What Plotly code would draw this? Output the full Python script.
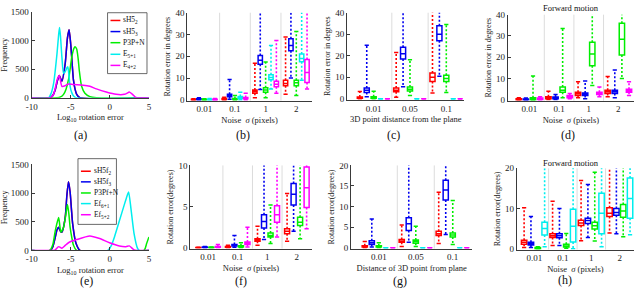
import plotly.graph_objects as go

W, H = 640, 298
FONT = "Liberation Serif"
RED, BLUE, GREEN, CYAN, MAGENTA = "#ff0000", "#0000f0", "#00ee00", "#00eeee", "#ff00ff"

# ---------------- histogram data (log10 rotation error vs frequency) ----------------
a_blue_x = [-10, -7.6, -7.3, -6.97, -6.7, -6.47, -6.13, -5.71, -5.42, -5.21, -5.0, -4.79, -4.66, -4.45, -4.24, -3.82, 5]
a_blue_y = [0, 0, 40, 146, 300, 388, 290, 595, 1045, 1185, 930, 540, 315, 150, 60, 0, 0]
a_red_x = a_blue_x
a_red_y = a_blue_y
a_green_x = [-10, -6.76, -6.3, -5.92, -5.6, -5.29, -5.08, -4.87, -4.6, -4.45, -4.24, -4.05, -3.91, -3.61, -3.19, -2.56, -1.72, 5]
a_green_y = [0, 0, 15, 60, 150, 315, 500, 710, 860, 890, 850, 680, 480, 200, 80, 20, 0, 0]
a_cyan_x = [-10, -7.82, -7.5, -7.18, -6.76, -6.55, -6.43, -6.3, -6.13, -5.92, -5.71, -5.5, -5.38, -5.25, -5.08, -4.87, -4.66, -4.33, 5]
a_cyan_y = [0, 0, 80, 260, 765, 1100, 1225, 1050, 710, 430, 455, 520, 540, 420, 200, 90, 35, 0, 0]
a_mag_x = [-10, -7.6, -7.2, -6.97, -6.7, -6.47, -6.13, -5.71, -5.29, -4.66, -3.4, -2.56, -1.72, -0.46, 0.8, 1.85, 2.2, 2.48, 2.9, 3.3, 3.6, 5]
a_mag_y = [0, 0, 60, 175, 330, 388, 200, 210, 240, 230, 220, 200, 155, 100, 60, 60, 80, 100, 60, 5, 0, 0]
a_names = ["sH5<sub>2</sub>", "sH5<sub>3</sub>", "P3P+N", "E<sub>5+1</sub>", "E<sub>4+2</sub>"]

e_blue_x = [-10, -7.6, -7.3, -6.97, -6.75, -6.55, -6.3, -6.13, -5.71, -5.5, -5.29, -5.08, -4.9, -4.75, -4.33, -3.82, 5]
e_blue_y = [0, 0, 60, 236, 360, 405, 330, 320, 573, 950, 1200, 1020, 700, 460, 124, 0, 0]
e_red_x = e_blue_x
e_red_y = e_blue_y
e_green_x = [-10, -7.7, -7.3, -6.97, -6.55, -6.26, -5.92, -5.6, -5.42, -5.25, -5.08, -4.87, -4.66, -4.24, 4.37, 4.7, 5]
e_green_y = [0, 0, 100, 350, 573, 320, 405, 650, 800, 650, 405, 230, 95, 0, 0, 120, 236]
e_cyan_x = [-10, -0.25, 0.2, 0.59, 1.22, 1.85, 2.2, 2.4, 2.69, 3.1, 3.53, 3.74, 5]
e_cyan_y = [0, 0, 90, 236, 517, 800, 950, 1020, 740, 290, 40, 0, 0]
e_mag_x = [-10, -7.2, -6.97, -6.55, -6.13, -5.7, -5.29, -4.24, -2.56, -1.3, -0.04, 1.22, 2.06, 2.48, 3.1, 3.5, 5]
e_mag_y = [0, 0, 10, 67, 40, 90, 135, 190, 253, 208, 135, 80, 67, 80, 10, 0, 0]
e_names = ["sH5f<sub>2</sub>", "sH5f<sub>3</sub>", "P3Pf+N", "Ef<sub>6+1</sub>", "Ef<sub>5+2</sub>"]

hist_x_ticks = [-10, -5, 0, 5]
hist_x_text = ["-10", "-5", "0", "5"]
hist_y_ticks = [0, 500, 1000, 1500]

# ---------------- box plot data: rows = methods, columns = categories ----------------
b_cats = ["0.01", "0.1", "1", "2"]
b_colors = [RED, BLUE, GREEN, CYAN, MAGENTA]
b_lo = [[0, 0, 1, 2.5], [0, 0.2, 4.7, 10], [0, 0, 1, 2], [0, 0, 5, 9], [0, 0, 3, 5]]
b_q1 = [[0.05, 0.1, 3, 6.5], [0.1, 1.4, 16.3, 22.5], [0.05, 0.1, 3.5, 6.5], [0.05, 0.7, 9.2, 17.5], [0.05, 0.5, 6, 8]]
b_med = [[0.1, 0.3, 3.8, 7.5], [0.3, 2, 18.2, 25], [0.15, 0.3, 4.5, 7.8], [0.15, 1.1, 10.3, 19], [0.15, 0.8, 7.2, 12.5]]
b_q3 = [[0.2, 0.6, 4.5, 9], [0.5, 2.6, 20.3, 28], [0.3, 0.6, 5.5, 9], [0.3, 1.5, 11.5, 21], [0.3, 1.1, 8.5, 18.5]]
b_hi = [[0.5, 1.2, 16.8, 28.8], [1, 9.3, 60, 60], [0.5, 2, 17.4, 31.4], [0.6, 3.5, 25, 60], [0.6, 3, 27.3, 60]]

c_cats = ["0.01", "0.05", "0.1"]
c_colors = [RED, BLUE, GREEN, CYAN, MAGENTA]
c_lo = [[0, 0.8, 2.7], [1, 5.6, 10.5], [0, 1.5, 3], [0, 0, 0], [0, 0, 0]]
c_q1 = [[0.3, 3.3, 8], [3, 18.5, 27], [0.3, 3.7, 8], [0, 0, 0], [0, 0, 0]]
c_med = [[0.5, 4, 10], [4, 21, 30], [0.6, 4.5, 9.5], [0, 0, 0], [0, 0, 0]]
c_q3 = [[0.9, 5, 12], [5, 24, 34], [1, 5.5, 11], [0, 0, 0], [0, 0, 0]]
c_hi = [[3.4, 21.5, 60], [24.9, 60, 60], [3.5, 18.2, 34.5], [0, 0, 0], [0, 0, 0]]

d_cats = ["0.01", "0.1", "1", "2"]
d_colors = [RED, BLUE, GREEN, MAGENTA]
d_lo = [[0, 0.2, 1, 1.5], [0, 0.2, 0.5, 1], [0, 1, 6.7, 10], [0, 0.5, 1.5, 2]]
d_q1 = [[0, 0.5, 2, 3], [0, 0.5, 2, 3], [0, 3.5, 16, 21], [0.2, 1, 2.5, 3.5]]
d_med = [[0.2, 1, 2.8, 3.8], [0.2, 1, 2.6, 3.8], [0.4, 4.5, 21.5, 28.5], [0.5, 1.5, 3, 4.3]]
d_q3 = [[0.5, 1.5, 3.5, 4.5], [0.4, 1.3, 3.2, 4.5], [1, 6, 27, 36], [0.8, 2, 3.5, 5]]
d_hi = [[1, 4, 8.5, 11], [0.8, 2.5, 8.8, 14], [11.2, 33.5, 60, 60], [1.5, 3, 6, 8.5]]

f_cats = ["0.01", "0.1", "1", "2"]
f_colors = [RED, BLUE, GREEN, MAGENTA]
f_lo = [[0, 0, 0.3, 0.8], [0, 0.05, 1, 2], [0, 0, 0.5, 1.1], [0, 0.1, 1.3, 2.3]]
f_q1 = [[0.01, 0.05, 0.8, 1.7], [0.03, 0.2, 2.4, 5.2], [0.01, 0.1, 1.3, 2.7], [0.05, 0.4, 3.1, 4.9]]
f_med = [[0.02, 0.1, 0.95, 2.0], [0.05, 0.3, 3.2, 6.5], [0.03, 0.17, 1.5, 3.1], [0.1, 0.55, 4.0, 7.3]]
f_q3 = [[0.03, 0.15, 1.1, 2.3], [0.08, 0.4, 4.0, 7.8], [0.05, 0.25, 1.8, 3.7], [0.15, 0.7, 5.1, 9.8]]
f_hi = [[0.05, 0.3, 2.6, 6.6], [0.15, 1.5, 12, 12], [0.1, 0.6, 5.2, 12], [0.4, 2.5, 12, 12]]

g_cats = ["0.01", "0.05", "0.1"]
g_colors = [RED, BLUE, GREEN, CYAN, MAGENTA]
g_lo = [[0, 0.3, 1], [0.2, 1.3, 3.2], [0, 0.3, 0.8], [0, 0, 0], [0, 0, 0]]
g_q1 = [[0.2, 1.3, 3], [0.8, 4.2, 11.6], [0.2, 1.1, 2.6], [0, 0, 0], [0, 0, 0]]
g_med = [[0.4, 1.6, 3.4], [1.2, 5.8, 14], [0.35, 1.5, 3.1], [0, 0, 0], [0, 0, 0]]
g_q3 = [[0.5, 2.0, 4.0], [1.7, 7.3, 16.4], [0.5, 1.9, 3.6], [0, 0, 0], [0, 0, 0]]
g_hi = [[1.5, 5.5, 13.5], [7, 30, 30], [1.2, 5.2, 11.5], [0, 0, 0], [0, 0, 0]]

h_cats = ["0.01", "0.1", "1", "2"]
h_colors = [RED, BLUE, GREEN, CYAN]
h_lo = [[0.3, 0.8, 2, 3.9], [0.3, 0.8, 2.8, 3.7], [0, 0.1, 1.9, 3], [0.5, 0, 0.5, 3.5]]
h_q1 = [[1.1, 2.8, 5.8, 8], [0.9, 2.7, 6.3, 8.3], [0, 0.4, 4.9, 7.8], [3.4, 1.7, 3.7, 7.6]]
h_med = [[1.6, 3.2, 6.4, 8.8], [1.3, 3.2, 7.0, 9.0], [0.1, 0.7, 5.7, 9.4], [5, 5.6, 8.8, 12.5]]
h_q3 = [[2.1, 3.7, 7.1, 10.2], [1.6, 3.7, 7.6, 10], [0.3, 1.1, 6.6, 11], [6.6, 9.8, 13.8, 17.6]]
h_hi = [[10.2, 11.8, 17, 30], [8, 10, 16, 30], [0.5, 3.8, 19, 30], [30, 30, 30, 30]]

# ---------------- layout geometry (pixels) ----------------
# panel: axis index, left, top, right, bottom
BOXES = {
    "a": (1, 26, 7, 145, 96),
    "b": (2, 184, 8, 310, 99),
    "c": (3, 346, 8, 465, 98),
    "d": (4, 509, 10, 637, 99),
    "e": (5, 26, 165, 145, 254),
    "f": (6, 187, 166, 310, 252),
    "g": (7, 350, 166, 473, 252),
    "h": (8, 518, 169, 637, 253),
}
LABEL_POS = {"a": (76, 135), "b": (240, 135), "c": (393, 135), "d": (570, 135),
             "e": (82, 286), "f": (238, 286), "g": (400, 286), "h": (567, 285)}


def px(x):
    return x / W


def py(y):
    return 1 - y / H


fig = go.Figure()


def axnames(i):
    return ("x" if i == 1 else f"x{i}"), ("y" if i == 1 else f"y{i}")


axis_common = dict(showline=True, linecolor="#3a3a3a", linewidth=1, showgrid=False,
                   zeroline=False, tickfont=dict(family=FONT, size=9, color="#222"),
                   tickcolor="#3a3a3a", fixedrange=True)

layout = dict(width=W, height=H, margin=dict(l=0, r=0, t=0, b=0), showlegend=False,
              plot_bgcolor="white", paper_bgcolor="white", font=dict(family=FONT, color="#222"))
shapes = []
annotations = []


def set_axes(key, xr, yr, xtickvals, xticktext, ytickvals, xtitle, ytitle, xticks):
    i, l, t, r, b = BOXES[key]
    xa, ya = axnames(i)
    xkey = "xaxis" if i == 1 else f"xaxis{i}"
    ykey = "yaxis" if i == 1 else f"yaxis{i}"
    layout[xkey] = dict(axis_common, domain=[px(l), px(r)], range=xr, anchor=ya,
                        tickvals=xtickvals, ticktext=xticktext, ticks=xticks, ticklen=3,
                        title=dict(text=xtitle, font=dict(family=FONT, size=8.5), standoff=3))
    layout[ykey] = dict(axis_common, domain=[py(b), py(t)], range=yr, anchor=xa,
                        tickvals=ytickvals, ticks="inside", ticklen=3,
                        title=dict(text=ytitle, font=dict(family=FONT, size=8), standoff=3))
    lx, ly = LABEL_POS[key]
    annotations.append(dict(text=f"({key})", x=px(lx), y=py(ly), xref="paper", yref="paper",
                            xanchor="center", yanchor="middle", showarrow=False,
                            font=dict(family=FONT, size=12, color="#111")))


def add_hist(key, series, names, legend_box, entry_y, line_x):
    i = BOXES[key][0]
    xa, ya = axnames(i)
    for (xs, ys), c in series:
        fig.add_trace(go.Scatter(x=xs, y=ys, mode="lines", xaxis=xa, yaxis=ya,
                                 line=dict(color=c, width=1.5, shape="spline", smoothing=0.6),
                                 hoverinfo="skip"))
    l, t, r, b = legend_box
    shapes.append(dict(type="rect", xref="paper", yref="paper", x0=px(l), x1=px(r), y0=py(b), y1=py(t),
                       line=dict(color="#444", width=0.8), fillcolor="white", layer="above"))
    for (xy, c), name, ey in zip(series, names, entry_y):
        shapes.append(dict(type="line", xref="paper", yref="paper", x0=px(line_x[0]), x1=px(line_x[1]),
                           y0=py(ey), y1=py(ey), line=dict(color=c, width=1.5), layer="above"))
        annotations.append(dict(text=name, x=px(line_x[1] + 1), y=py(ey), xref="paper", yref="paper",
                                xanchor="left", yanchor="middle", showarrow=False,
                                font=dict(family=FONT, size=7.5, color="#111")))


def add_boxes(key, cats, colors, lo, q1, med, q3, hi, step, width):
    i = BOXES[key][0]
    xa, ya = axnames(i)
    n = len(colors)
    for k in range(len(cats) - 1):
        shapes.append(dict(type="line", xref=xa, yref=f"{ya} domain", x0=k + 0.5, x1=k + 0.5,
                           y0=0, y1=1, line=dict(color="#dcdcdc", width=1), layer="below"))
    for j, c in enumerate(colors):
        off = (j - (n - 1) / 2) * step
        xs = [k + off for k in range(len(cats))]
        wx, wy = [], []
        for k, x in enumerate(xs):
            wx += [x, x, None, x, x, None]
            wy += [q3[j][k], hi[j][k], None, q1[j][k], lo[j][k], None]
        fig.add_trace(go.Scatter(x=wx, y=wy, mode="lines", xaxis=xa, yaxis=ya,
                                 line=dict(color=c, width=1.6, dash="2px,2px"), hoverinfo="skip"))
        fig.add_trace(go.Scatter(x=xs + xs, y=hi[j] + lo[j], mode="markers", xaxis=xa, yaxis=ya,
                                 marker=dict(symbol="line-ew", size=3, line=dict(color=c, width=1.5)),
                                 hoverinfo="skip"))
        fig.add_trace(go.Box(x=xs, q1=q1[j], median=med[j], q3=q3[j], lowerfence=q1[j], upperfence=q3[j],
                             width=width, whiskerwidth=0, line=dict(color=c, width=1.5),
                             fillcolor="rgba(0,0,0,0)", boxpoints=False, xaxis=xa, yaxis=ya,
                             hoverinfo="skip"))


noise_title = "Noise  <i>σ</i> (pixels)"

# (a)
set_axes("a", [-10, 5], [0, 1500], hist_x_ticks, hist_x_text, hist_y_ticks,
         "Log<sub>10</sub> rotation error", "Frequency", "inside")
add_hist("a", [((a_red_x, a_red_y), RED), ((a_blue_x, a_blue_y), BLUE), ((a_green_x, a_green_y), GREEN),
               ((a_cyan_x, a_cyan_y), CYAN), ((a_mag_x, a_mag_y), MAGENTA)],
         a_names, (103, 8, 143, 71), [16, 27.5, 39, 51, 62.5], (106, 116))
# (e)
set_axes("e", [-10, 5], [0, 1500], hist_x_ticks, hist_x_text, hist_y_ticks,
         "Log<sub>10</sub> rotation error", "Frequency", "inside")
add_hist("e", [((e_red_x, e_red_y), RED), ((e_blue_x, e_blue_y), BLUE), ((e_green_x, e_green_y), GREEN),
               ((e_cyan_x, e_cyan_y), CYAN), ((e_mag_x, e_mag_y), MAGENTA)],
         e_names, (73, 159, 112, 227), [172, 183, 194.5, 205.5, 217], (76, 86))

# (b)
set_axes("b", [-0.55, 3.5], [-0.4, 40], list(range(len(b_cats))), b_cats, [0, 10, 20, 30, 40],
         noise_title, "Rotation error in degrees", "")
add_boxes("b", b_cats, b_colors, b_lo, b_q1, b_med, b_q3, b_hi, 0.175, 0.14)
# (c)
set_axes("c", [-0.73, 2.5], [-0.4, 40], list(range(len(c_cats))), c_cats, [0, 10, 20, 30, 40],
         "3D point distance from the plane", "Rotation error in degrees", "")
add_boxes("c", c_cats, c_colors, c_lo, c_q1, c_med, c_q3, c_hi, 0.19, 0.14)
# (d)
set_axes("d", [-0.73, 3.53], [-0.4, 40], list(range(len(d_cats))), d_cats, [0, 10, 20, 30, 40],
         noise_title, "Rotation error in degrees", "")
add_boxes("d", d_cats, d_colors, d_lo, d_q1, d_med, d_q3, d_hi, 0.24, 0.18)
# (f)
set_axes("f", [-0.6, 3.5], [-0.1, 10], list(range(len(f_cats))), f_cats, [0, 5, 10],
         noise_title, "Rotation error(degrees)", "")
add_boxes("f", f_cats, f_colors, f_lo, f_q1, f_med, f_q3, f_hi, 0.22, 0.17)
# (g)
set_axes("g", [-0.75, 2.53], [-0.2, 20], list(range(len(g_cats))), g_cats, [0, 5, 10, 15, 20],
         "Distance of 3D point from plane", "Rotation error(degrees)", "")
add_boxes("g", g_cats, g_colors, g_lo, g_q1, g_med, g_q3, g_hi, 0.19, 0.14)
# (h)
set_axes("h", [-0.62, 3.5], [-0.2, 20], list(range(len(h_cats))), h_cats, [0, 10, 20],
         noise_title, "Rotation error(degrees)", "")
add_boxes("h", h_cats, h_colors, h_lo, h_q1, h_med, h_q3, h_hi, 0.24, 0.19)

for key, ytop in (("d", 3.5), ("h", 163)):
    annotations.append(dict(text="Forward motion", x=px(573), y=py(ytop), xref="paper", yref="paper",
                            showarrow=False, xanchor="center", yanchor="middle",
                            font=dict(family=FONT, size=8.5, color="#111")))

layout["shapes"] = shapes
layout["annotations"] = annotations
fig.update_layout(**layout)
fig.write_html("out.html", config={"displayModeBar": False, "staticPlot": True},
               post_script="document.body.style.margin='0';document.body.style.padding='0';")
